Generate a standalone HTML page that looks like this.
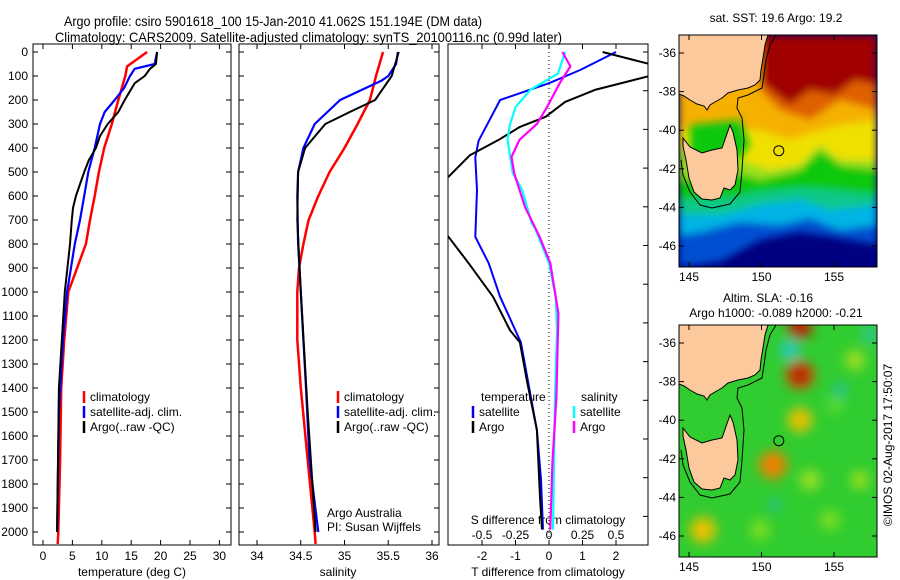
<!DOCTYPE html>
<html><head><meta charset="utf-8"><style>
html,body{margin:0;padding:0;background:#fff;}
svg{display:block;font-family:"Liberation Sans",sans-serif;}
text{font-size:12px;fill:#000;}
</style></head><body>
<svg id="fig" width="900" height="580" viewBox="0 0 900 580">
<defs>
<filter id="blur4" x="-20%" y="-20%" width="140%" height="140%"><feGaussianBlur stdDeviation="4"/></filter>
<filter id="blur6" x="-50%" y="-50%" width="200%" height="200%"><feGaussianBlur stdDeviation="6"/></filter>
<clipPath id="c1"><rect x="33" y="44" width="198" height="501"/></clipPath>
<clipPath id="c2"><rect x="239" y="44" width="200" height="501"/></clipPath>
<clipPath id="c3"><rect x="448" y="44" width="200" height="501"/></clipPath>
<clipPath id="m1"><rect x="679" y="35" width="198" height="232"/></clipPath>
<clipPath id="m2"><rect x="679" y="325" width="198" height="232"/></clipPath>
</defs>
<text x="64" y="26" textLength="418" lengthAdjust="spacingAndGlyphs" style="font-size:14px">Argo profile: csiro 5901618_100 15-Jan-2010 41.062S 151.194E (DM data)</text>
<text x="55" y="42" textLength="507" lengthAdjust="spacingAndGlyphs" style="font-size:14px">Climatology: CARS2009. Satellite-adjusted climatology: synTS_20100116.nc (0.99d later)</text>
<g id="axes"></g>
<g id="maps"></g>
</svg>
<script>
// ---- data ----
const tDepth   = [0, 60, 100, 200, 300, 400, 500, 600, 700, 800, 1000, 1200, 1400, 1700, 2000, 2050];
const tClim    = [17.7, 14.3, 14.0, 12.8, 11.7, 10.4, 9.5, 8.8, 8.0, 7.3, 4.3, 3.6, 3.1, 2.9, 2.6, 2.5];
const tSatDepth= [0, 50, 70, 100, 150, 200, 250, 300, 400, 500, 600, 700, 800, 1000, 1200, 1500, 2000];
const tSat     = [19.4, 19.0, 15.6, 14.8, 13.8, 12.2, 10.5, 9.7, 8.8, 7.7, 7.0, 6.3, 5.4, 4.1, 3.4, 2.7, 2.4];
const tArgoDepth=[0, 50, 70, 100, 130, 200, 250, 300, 350, 400, 450, 500, 600, 650, 700, 800, 1000, 1400, 2000];
const tArgo    = [19.4, 19.2, 18.2, 17.3, 15.6, 13.9, 12.8, 11.0, 9.7, 9.0, 7.8, 7.0, 5.6, 5.1, 4.9, 4.6, 3.7, 2.7, 2.4];

const sDepth   = [0, 100, 200, 300, 400, 500, 600, 700, 800, 900, 1000, 1200, 1400, 1700, 2000, 2050];
const sClim    = [35.44, 35.36, 35.29, 35.15, 35.0, 34.83, 34.7, 34.59, 34.53, 34.48, 34.46, 34.46, 34.5, 34.58, 34.66, 34.67];
const sSatDepth= [0, 50, 100, 120, 200, 300, 400, 500, 600, 800, 1000, 1400, 1700, 2000];
const sSat     = [35.61, 35.59, 35.5, 35.42, 34.95, 34.66, 34.53, 34.47, 34.46, 34.47, 34.5, 34.56, 34.6, 34.7];
const sArgoDepth=[0, 100, 200, 250, 300, 400, 500, 700, 1000, 1500, 2000];
const sArgo    = [35.62, 35.54, 35.35, 35.06, 34.78, 34.55, 34.47, 34.46, 34.5, 34.58, 34.67];

const dTSatDepth = [0, 75, 130, 200, 280, 370, 440, 575, 770, 880, 1020, 1210, 1370, 1575, 1780, 1990];
const dTSat      = [2.0, 0.93, 0.0, -1.46, -1.76, -2.1, -2.2, -2.15, -2.2, -1.8, -1.46, -0.84, -0.63, -0.36, -0.24, -0.18];
const dTArgoDepth= [0, 50, 75, 100, 158, 208, 270, 312, 366, 430, 520, 600, 700, 770, 880, 1020, 1160, 1210, 1370, 1575, 1855, 1990];
const dTArgo     = [1.6, 3.0, 3.8, 3.0, 1.37, 0.48, -0.1, -0.87, -1.5, -2.36, -3.0, -3.8, -3.6, -3.0, -2.4, -1.67, -1.16, -0.87, -0.66, -0.36, -0.27, -0.21];
const dSSatDepth = [0, 90, 158, 230, 300, 366, 505, 575, 712, 740, 880, 1020, 1160, 1437, 1713, 1990];
const dSSat      = [0.12, 0.067, -0.14, -0.25, -0.29, -0.31, -0.27, -0.2, -0.13, -0.1, 0.0, 0.05, 0.06, 0.045, 0.037, 0.03];
const dSArgoDepth= [0, 60, 130, 230, 300, 366, 437, 505, 645, 770, 880, 1090, 1437, 1713, 1990];
const dSArgo     = [0.1, 0.16, 0.08, -0.015, -0.09, -0.22, -0.28, -0.26, -0.18, -0.07, 0.01, 0.07, 0.055, 0.025, 0.01];

const tTicks = [0, 5, 10, 15, 20, 25, 30];
const sTicks = [34, 34.5, 35, 35.5, 36];
const dTTicks = [-2, -1, 0, 1, 2];
const dSTicks = [-0.5, -0.25, 0, 0.25, 0.5];
const depthTicks = [0,100,200,300,400,500,600,700,800,900,1000,1100,1200,1300,1400,1500,1600,1700,1800,1900,2000];
const lonTicks = [145, 150, 155];
const latTicks = [-36, -38, -40, -42, -44, -46];

// ---- scales ----
const yD = d => 52 + d * 0.24;
const xT = v => 43 + v * 5.88;
const xS = v => 257 + (v - 34) * 87.5;
const xdT = v => 549 + v * 33.5;
const xdS = v => 549 + v * 134;
const NS = 'http://www.w3.org/2000/svg';
const g = document.getElementById('axes');
function mk(tag, attrs, parent) {
  const e = document.createElementNS(NS, tag);
  for (const k in attrs) e.setAttribute(k, attrs[k]);
  (parent || g).appendChild(e);
  return e;
}
function txt(x, y, s, anchor, parent, size) {
  const t = mk('text', {x: x, y: y, 'text-anchor': anchor || 'middle'}, parent);
  if (size) t.style.fontSize = size + 'px';
  t.textContent = s;
  return t;
}
function series(xs, ds, sx, color, w, clip, name) {
  const pts = xs.map((v, i) => sx(v).toFixed(1) + ',' + yD(ds[i]).toFixed(1)).join(' ');
  const p = mk('polyline', {points: pts, fill: 'none', stroke: color, 'stroke-width': w, 'clip-path': 'url(#' + clip + ')', 'stroke-linejoin': 'round'});
  
  
}
function frame(x0, x1, name) {
  const r = mk('rect', {x: x0, y: 44, width: x1 - x0, height: 501, fill: 'none', stroke: '#000', 'stroke-width': 1});
  
  
  depthTicks.forEach(d => {
    mk('line', {x1: x0, x2: x0 + 5, y1: yD(d), y2: yD(d), stroke: '#000'});
    mk('line', {x1: x1, x2: x1 - 5, y1: yD(d), y2: yD(d), stroke: '#000'});
  });
}
// panel 1
frame(33, 231, 'temperature-panel');
depthTicks.forEach(d => { const t = txt(28, yD(d) + 4, String(d), 'end');   });
tTicks.forEach(v => { mk('line', {x1: xT(v), x2: xT(v), y1: 545, y2: 540, stroke: '#000'}); mk('line', {x1: xT(v), x2: xT(v), y1: 44, y2: 49, stroke: '#000'}); txt(xT(v), 560, String(v)); });
txt(132, 576, 'temperature (deg C)');
series(tClim, tDepth, xT, '#ff0000', 2.5, 'c1', 'temp-climatology-line');
series(tSat, tSatDepth, xT, '#0000ff', 2.2, 'c1', 'temp-satellite-line');
series(tArgo, tArgoDepth, xT, '#000', 2, 'c1', 'temp-argo-line');
// panel 2
frame(239, 439, 'salinity-panel');
sTicks.forEach(v => { mk('line', {x1: xS(v), x2: xS(v), y1: 545, y2: 540, stroke: '#000'}); mk('line', {x1: xS(v), x2: xS(v), y1: 44, y2: 49, stroke: '#000'}); txt(xS(v), 560, String(v)); });
txt(338, 576, 'salinity');
series(sClim, sDepth, xS, '#ff0000', 2.5, 'c2', 'sal-climatology-line');
series(sSat, sSatDepth, xS, '#0000ff', 2.2, 'c2', 'sal-satellite-line');
series(sArgo, sArgoDepth, xS, '#000', 2, 'c2', 'sal-argo-line');
txt(327, 517, 'Argo Australia', 'start');
txt(327, 531, 'PI: Susan Wijffels', 'start');
// panel 3
mk('rect', {x: 448, y: 44, width: 200, height: 501, fill: 'none', stroke: '#000'});
for (let k = 0; k <= 12; k++) { const y = 52 + k * 38.7; mk('line', {x1: 648, x2: 643, y1: y, y2: y, stroke: '#000'}); }
dTTicks.forEach(v => { mk('line', {x1: xdT(v), x2: xdT(v), y1: 545, y2: 540, stroke: '#000'}); mk('line', {x1: xdT(v), x2: xdT(v), y1: 44, y2: 49, stroke: '#000'}); txt(xdT(v), 560, String(v)); });
dSTicks.forEach(v => txt(xdS(v), 539, String(v)));
txt(548, 524, 'S difference from climatology');
txt(548, 576, 'T difference from climatology');
mk('line', {x1: 549, x2: 549, y1: 44, y2: 545, stroke: '#000', 'stroke-dasharray': '1,3'});
series(dTSat, dTSatDepth, xdT, '#0000ff', 2, 'c3', 'tdiff-satellite-line');
series(dTArgo, dTArgoDepth, xdT, '#000', 2, 'c3', 'tdiff-argo-line');
series(dSSat, dSSatDepth, xdS, '#00ffff', 2.2, 'c3', 'sdiff-satellite-line');
series(dSArgo, dSArgoDepth, xdS, '#ff00ff', 2.2, 'c3', 'sdiff-argo-line');
// legends
function legend(x, y, color, label, name) {
  const lg = mk('g', {});
  
  
  mk('line', {x1: x, x2: x, y1: y - 6, y2: y + 6, stroke: color, 'stroke-width': 2.5}, lg);
  txt(x + 6, y + 4, label, 'start', lg);
}
legend(84, 397, '#ff0000', 'climatology', 'legend-climatology');
legend(84, 412, '#0000ff', 'satellite-adj. clim.', 'legend-satellite');
legend(84, 427, '#000', 'Argo(..raw -QC)', 'legend-argo');
legend(338, 397, '#ff0000', 'climatology', 'legend2-climatology');
legend(338, 412, '#0000ff', 'satellite-adj. clim.', 'legend2-satellite');
legend(338, 427, '#000', 'Argo(..raw -QC)', 'legend2-argo');
txt(481, 401, 'temperature', 'start');
legend(473, 412, '#0000ff', 'satellite', 'legend-tdiff-satellite');
legend(473, 427, '#000', 'Argo', 'legend-tdiff-argo');
txt(581, 401, 'salinity', 'start');
legend(574, 412, '#00ffff', 'satellite', 'legend-sdiff-satellite');
legend(574, 427, '#ff00ff', 'Argo', 'legend-sdiff-argo');

// ---- maps ----
const mg = document.getElementById('maps');
const lonX = lon => 689 + (lon - 145) * 14.5;
function mapFrame(top, latY, name, clip, bgDraw, title) {
  const grp = mk('g', {}, mg);
  
  
  const inner = mk('g', {'clip-path': 'url(#' + clip + ')'}, grp);
  bgDraw(inner);
  const dy = top - 35;
  const main = [[679,35],[768,35],[765,45],[763,58],[761,70],[760,80],[755,85],[748,88],[738,90],[728,93],[722,98],[715,102],[710,105],[707,110],[704,106],[697,104],[690,100],[684,96],[679,94]];
  const tas = [[683,138],[690,147],[702,153],[712,150],[722,148],[730,125],[733,132],[737,150],[738,170],[735,185],[730,190],[724,188],[720,198],[712,200],[702,199],[694,192],[689,178],[686,160],[683,146]];
  const toP = a => a.map(p => p[0] + ',' + (p[1] + dy)).join(' ');
  mk('polygon', {points: toP(main), fill: '#fbc99b', stroke: '#000', 'stroke-width': 1}, inner);
  mk('polygon', {points: toP(tas), fill: '#fbc99b', stroke: '#000', 'stroke-width': 1}, inner);
  const contour = [[776,35],[770,45],[766,60],[764,75],[762,88],[748,95],[738,98],[737,108],[742,118],[744,140],[742,170],[740,192],[730,204],[712,208],[700,205],[690,192],[683,175],[681,160]];
  mk('polyline', {points: toP(contour), fill: 'none', stroke: '#000', 'stroke-width': 1}, inner);
  mk('rect', {x: 679, y: top, width: 198, height: 232, fill: 'none', stroke: '#000'}, grp);
  lonTicks.forEach(l => { mk('line', {x1: lonX(l), x2: lonX(l), y1: top + 232, y2: top + 227, stroke: '#000'}, grp); mk('line', {x1: lonX(l), x2: lonX(l), y1: top, y2: top + 5, stroke: '#000'}, grp); txt(lonX(l), top + 246, String(l), 'middle', grp); });
  latTicks.forEach(l => { const y = latY(l); mk('line', {x1: 679, x2: 684, y1: y, y2: y, stroke: '#000'}, grp); mk('line', {x1: 877, x2: 872, y1: y, y2: y, stroke: '#000'}, grp); txt(676, y + 4, String(l), 'end', grp); });
  const c = mk('circle', {cx: lonX(151.194), cy: latY(-41.062), r: 5, fill: 'none', stroke: '#000'}, grp);
  
  
}
mapFrame(35, l => 53 + (-36 - l) * 19.3, 'sst-map', 'm1', p => {
  mk('rect', {x: 679, y: 35, width: 198, height: 232, fill: '#000080'}, p);
  const bands = [['#0050d0', 'M679,200 L877,190 L877,245 L840,238 L800,232 L760,240 L720,262 L679,267 Z'],
                 ['#00b4e6', 'M679,190 L877,180 L877,225 L840,230 L810,218 L780,225 L740,222 L700,232 L679,235 Z'],
                 ['#10c88a', 'M679,175 L877,160 L877,205 L830,210 L800,200 L760,205 L720,215 L679,215 Z'],
                 ['#10c810', 'M679,120 L877,140 L877,195 L830,190 L800,188 L760,192 L730,198 L679,200 Z'],
                 ['#9be01a', 'M679,100 L877,110 L877,170 L840,165 L820,150 L800,170 L760,180 L730,170 L679,180 Z'],
                 ['#f0e000', 'M679,90 L877,70 L877,160 L840,160 L820,145 L800,165 L770,170 L740,160 L679,150 Z'],
                 ['#f5b000', 'M679,35 L877,35 L877,120 L840,125 L820,130 L790,140 L760,130 L679,130 Z'],
                 ['#e06000', 'M760,35 L877,35 L877,110 L840,100 L810,120 L780,110 L760,90 Z'],
                 ['#a00000', 'M760,35 L877,35 L877,85 L855,80 L835,95 L810,90 L790,105 L770,90 L760,80 Z']];
  const bg = mk('g', {filter: 'url(#blur4)'}, p);
  bands.forEach(b => mk('path', {d: b[1], fill: b[0]}, bg));
  mk('path', {d: 'M690,125 L740,120 L750,145 L730,170 L690,160 Z', fill: '#10c810', filter: 'url(#blur4)'}, p);
});
mapFrame(325, l => 343 + (-36 - l) * 19.3, 'sla-map', 'm2', p => {
  mk('rect', {x: 679, y: 325, width: 198, height: 232, fill: '#30cc30'}, p);
  const blobs = [[800,327,12,'#c02000'],[790,350,10,'#20c8c0'],[800,375,14,'#e04000'],[800,375,7,'#a00000'],[800,420,12,'#f0c000'],[773,465,14,'#f08000'],[703,530,13,'#f0c000'],[835,405,8,'#60dd30'],[855,360,10,'#a0e020'],[840,390,7,'#20c0a0'],[810,480,10,'#a0e020'],[830,520,10,'#80e020'],[760,530,10,'#80e020'],[860,480,9,'#a0e020'],[870,335,8,'#30c8a0'],[775,505,6,'#20c0a0']];
  const bg = mk('g', {filter: 'url(#blur6)'}, p);
  blobs.forEach(b => mk('circle', {cx: b[0], cy: b[1], r: b[2], fill: b[3]}, bg));
});
txt(776, 22, 'sat. SST: 19.6 Argo: 19.2', 'middle', mg);
txt(768, 302, 'Altim. SLA: -0.16', 'middle', mg);
txt(776, 317, 'Argo h1000: -0.089 h2000: -0.21', 'middle', mg);
const cr = txt(0, 0, '\u00A9IMOS 02-Aug-2017 17:50:07', 'middle', mg);
cr.setAttribute('transform', 'translate(892,445) rotate(-90)');


</script>
</body></html>
